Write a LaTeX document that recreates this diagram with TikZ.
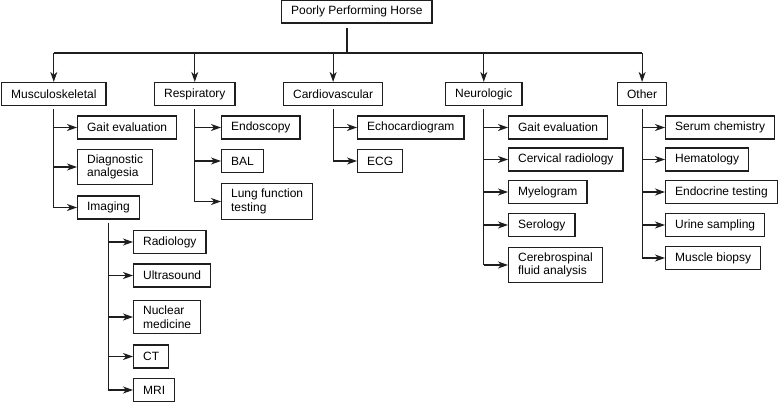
\documentclass[tikz,border=0pt]{standalone}
\usepackage{fontspec}
\setmainfont{Liberation Sans}
\usetikzlibrary{arrows.meta}
\definecolor{hrsink}{HTML}{1E1E1E}
\tikzset{
  box/.style={draw=hrsink, line width=1.2pt, anchor=west, align=left, font=\fontsize{12}{13.5}\selectfont, inner xsep=9.5pt, inner ysep=5.5pt, minimum height=23pt},
  arr/.style={-{Stealth[length=10pt,width=7pt,inset=3pt]}, line width=1.2pt, color=hrsink},
  wire/.style={line width=1.2pt, color=hrsink},
}

\begin{document}
\begin{tikzpicture}[x=1pt,y=-1pt]
  \useasboundingbox (0,0) rectangle (779,402);
  % root and the five systems
  \node[box] (horse) at (281,11.5) {Poorly Performing Horse};
  \node[box] (msk) at (1,94) {Musculoskeletal};
  \node[box] (resp) at (154,94) {Respiratory};
  \node[box] (cardio) at (283,94) {Cardiovascular};
  \node[box] (neuro) at (445,94) {Neurologic};
  \node[box] (other) at (617,94) {Other};
  \coordinate (split) at (347,53);
  \draw[wire, shorten <=4pt] (horse.south -| split) -- (split);
  \draw[wire] (split -| msk) -- (split -| other);
  \foreach \c in {msk,resp,cardio,neuro,other}
    { \draw[arr] (split -| \c) -- (\c.north); }

  % musculoskeletal
  \foreach \n/\t/\y in {1/Gait evaluation/127.5, 2/{Diagnostic\\analgesia}/167, 3/Imaging/207.5}
    { \node[box] (msk\n) at (77,\y) {\t}; \draw[arr] (msk.south |- msk\n.west) -- (msk\n.west); }
  \draw[wire, shorten <=3pt] (msk.south) -- (msk.south |- msk3.west);
  % imaging
  \foreach \n/\t/\y in {1/Radiology/242, 2/Ultrasound/275.5, 3/{Nuclear\\medicine}/317, 4/CT/356.5, 5/MRI/390}
    { \node[box] (img\n) at (133,\y) {\t}; \draw[arr] (msk3.south |- img\n.west) -- (img\n.west); }
  \draw[wire, shorten <=3pt] (msk3.south) -- (msk3.south |- img5.west);

  % respiratory
  \foreach \n/\t/\y in {1/Endoscopy/127.5, 2/BAL/161, 3/{Lung function\\testing}/201.5}
    { \node[box] (resp\n) at (221,\y) {\t}; \draw[arr] (resp.south |- resp\n.west) -- (resp\n.west); }
  \draw[wire, shorten <=3pt] (resp.south) -- (resp.south |- resp3.west);

  % cardiovascular
  \foreach \n/\t/\y in {1/Echocardiogram/127.5, 2/ECG/161}
    { \node[box] (cardio\n) at (357,\y) {\t}; \draw[arr] (cardio.south |- cardio\n.west) -- (cardio\n.west); }
  \draw[wire, shorten <=3pt] (cardio.south) -- (cardio.south |- cardio2.west);

  % neurologic
  \foreach \n/\t/\y in {1/Gait evaluation/127.5, 2/Cervical radiology/159.5, 3/Myelogram/192, 4/Serology/225, 5/{Cerebrospinal\\fluid analysis}/265}
    { \node[box] (neuro\n) at (508,\y) {\t}; \draw[arr] (neuro.south |- neuro\n.west) -- (neuro\n.west); }
  \draw[wire, shorten <=3pt] (neuro.south) -- (neuro.south |- neuro5.west);

  % other
  \foreach \n/\t/\y in {1/Serum chemistry/127.5, 2/Hematology/159.5, 3/Endocrine testing/192, 4/Urine sampling/225, 5/Muscle biopsy/258}
    { \node[box] (other\n) at (665,\y) {\t}; \draw[arr] (other.south |- other\n.west) -- (other\n.west); }
  \draw[wire, shorten <=3pt] (other.south) -- (other.south |- other5.west);
\end{tikzpicture}
\end{document}
